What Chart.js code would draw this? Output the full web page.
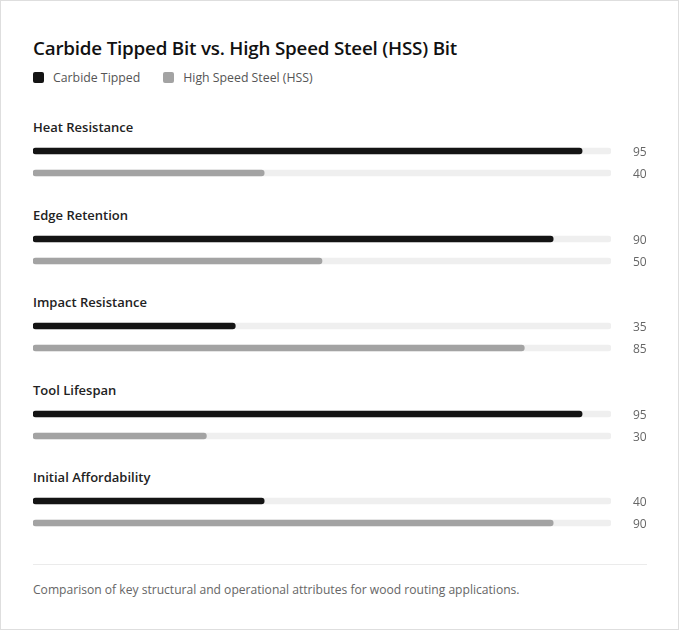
<!DOCTYPE html>
<html>
<head>
<meta charset="utf-8">
<script src="https://cdn.jsdelivr.net/npm/chart.js@4.4.1/dist/chart.umd.min.js"></script>
<style>
  html, body { margin: 0; padding: 0; background: #fff; }
  body { font-family: "Open Sans", "Noto Sans", sans-serif; }
  .card {
    box-sizing: border-box; width: 679px; height: 630px;
    border: 1px solid #dedede; background: #fff;
    padding: 35px 31px 0 32px;
  }
  h1 { margin: 0; font-size: 18.8px; line-height: 24px; font-weight: 600; color: #111; letter-spacing: -0.2px; }
  .legend { margin-top: 8px; height: 18px; display: flex; align-items: center; font-size: 12.3px; color: #555; }
  .legend span.sw { display: inline-block; width: 11px; height: 11px; border-radius: 2px; margin-right: 9px; }
  .legend .item { display: flex; align-items: center; margin-right: 23px; }
  .groups { margin-top: 32px; }
  .group { margin-bottom: 21.5px; }
  .group:last-child { margin-bottom: 0; }
  .glabel { font-size: 13px; line-height: 18px; font-weight: 600; color: #222; margin-bottom: 4px; }
  .cw { position: relative; width: 614px; height: 44px; }
  .sep { margin-top: 30px; border-top: 1px solid #ebebeb; width: 614px; }
  .foot { margin-top: 16px; font-size: 12.1px; line-height: 18px; color: #666; }
</style>
</head>
<body>
<div class="card">
  <h1>Carbide Tipped Bit vs. High Speed Steel (HSS) Bit</h1>
  <div class="legend" id="legend"></div>
  <div class="groups" id="groups"></div>
  <div class="sep"></div>
  <div class="foot">Comparison of key structural and operational attributes for wood routing applications.</div>
</div>
<script>
const categories = ["Heat Resistance", "Edge Retention", "Impact Resistance", "Tool Lifespan", "Initial Affordability"];
const seriesNames = ["Carbide Tipped", "High Speed Steel (HSS)"];
const carbideValues = [95, 90, 35, 95, 40];
const hssValues = [40, 50, 85, 30, 90];
const maxValue = 100;

const colors = ["#141414", "#a3a3a3"];
const trackColor = "#efefef";

// legend
const legendEl = document.getElementById("legend");
seriesNames.forEach((name, i) => {
  const item = document.createElement("div");
  item.className = "item";
  item.innerHTML = `<span class="sw" style="background:${colors[i]}"></span>${name}`;
  legendEl.appendChild(item);
});

// value labels at the right of each track
const valueLabels = {
  id: "valueLabels",
  afterDatasetsDraw(chart) {
    const { ctx, chartArea } = chart;
    const yScale = chart.scales.y;
    const data = chart.data.datasets[0].data;
    ctx.save();
    ctx.font = "12px 'Open Sans', sans-serif";
    ctx.fillStyle = "#666";
    ctx.textBaseline = "middle";
    ctx.textAlign = "left";
    data.forEach((v, i) => {
      ctx.fillText(String(v), chartArea.right + 22, yScale.getPixelForValue(i) + 2);
    });
    ctx.restore();
  }
};

const groupsEl = document.getElementById("groups");
categories.forEach((cat, idx) => {
  const g = document.createElement("div");
  g.className = "group";
  g.innerHTML = `<div class="glabel">${cat}</div><div class="cw"><canvas></canvas></div>`;
  groupsEl.appendChild(g);
  const canvas = g.querySelector("canvas");
  new Chart(canvas, {
    type: "bar",
    data: {
      labels: seriesNames,
      datasets: [
        {
          data: [carbideValues[idx], hssValues[idx]],
          backgroundColor: colors,
          barThickness: 6,
          borderRadius: 3,
          borderSkipped: false,
          grouped: false
        },
        {
          data: seriesNames.map(() => maxValue),
          backgroundColor: trackColor,
          barThickness: 6,
          borderRadius: 3,
          borderSkipped: false,
          grouped: false
        }
      ]
    },
    options: {
      indexAxis: "y",
      responsive: true,
      maintainAspectRatio: false,
      animation: false,
      layout: { padding: { left: 0, right: 36, top: 0, bottom: 0 } },
      plugins: { legend: { display: false }, tooltip: { enabled: false } },
      scales: {
        x: { display: false, min: 0, max: maxValue },
        y: { display: false }
      }
    },
    plugins: [valueLabels]
  });
});
</script>
</body>
</html>
